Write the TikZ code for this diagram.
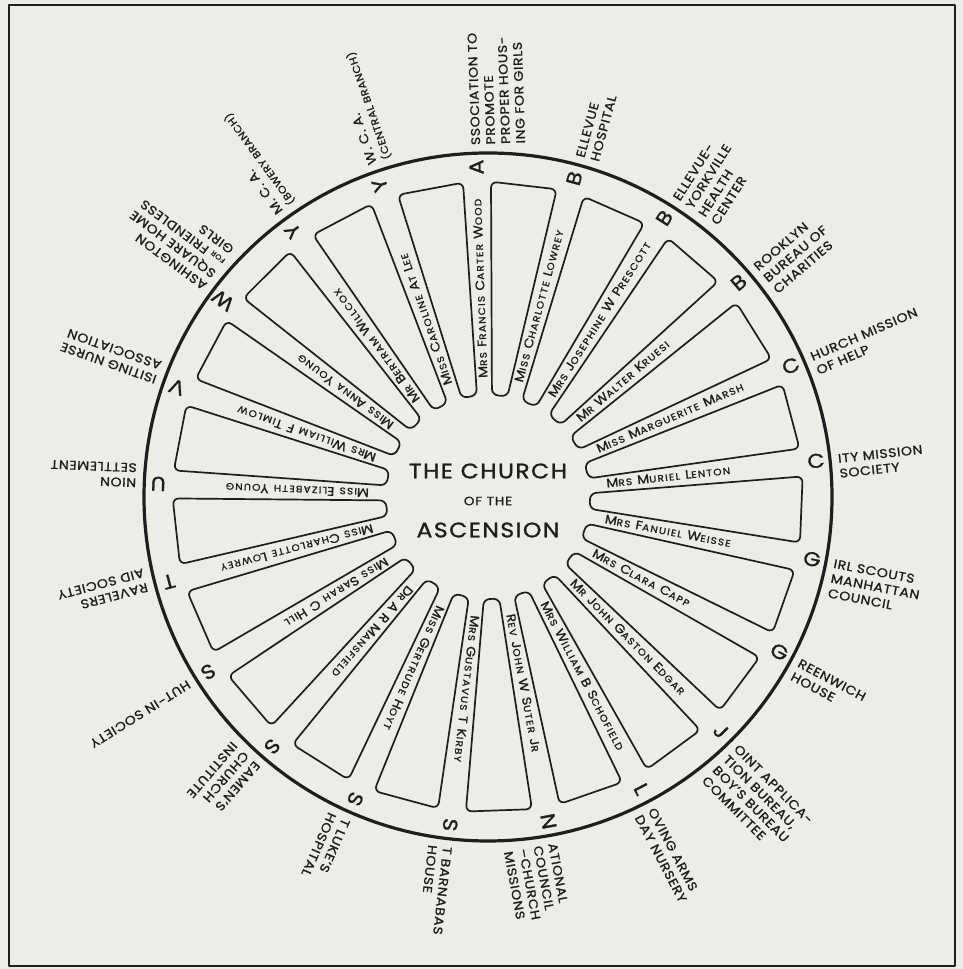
\documentclass[tikz,border=0pt]{standalone}
\usepackage{fontspec}
\setmainfont{Poppins}[FakeStretch=1.12,FakeBold=1.2]
\usetikzlibrary{calc}
\definecolor{paper}{HTML}{EDECE7}
\definecolor{ink}{HTML}{1E1E1E}
\newcommand\scap{\fontsize{9.4}{10}\selectfont}
\newcommand\tinycap{\fontsize{7}{8}\selectfont}
\newcommand\brcap{\fontsize{10}{11}\selectfont}
\tikzset{
  boxline/.style={draw=ink, line width=1.7, rounded corners=6},
  droptxt/.style={inner sep=0, text=ink, font=\fontsize{20}{21}\selectfont},
  labtxt/.style={inner sep=0, text=ink, anchor=base west, font=\fontsize{12.5}{15}\selectfont\addfontfeatures{LetterSpace=5}},
  nametxt/.style={inner sep=0, text=ink, anchor=base west, font=\fontsize{12.4}{13}\selectfont\addfontfeatures{LetterSpace=13}},
  headtxt/.style={inner sep=0, text=ink, font=\fontsize{21}{22}\selectfont\addfontfeatures{LetterSpace=7}},
  headsm/.style={inner sep=0, text=ink, font=\fontsize{12}{14}\selectfont\addfontfeatures{LetterSpace=8}}
}
\begin{document}
\begin{tikzpicture}[x=1pt,y=1pt,line join=round]
\useasboundingbox (0,0) rectangle (963,969);
\fill[paper] (0,0) rectangle (963,969);
\draw[ink, line width=2] (8.5,3) rectangle (955,964);
\coordinate (C) at (488,472);
\draw[ink, line width=3.2] (C) circle (344);
% boxes
\foreach \k in {0,...,20}{
  \pgfmathsetmacro\ta{92-\k*360/21}
  \pgfmathsetmacro\tb{\ta-360/21}
  \pgfmathsetmacro\tam{\ta-90}
  \pgfmathsetmacro\tbp{\tb+90}
  \draw[boxline]
    ($(C)+(\ta:102)+(\tam:7.5)$) -- ($(C)+(\ta:315)+(\tam:14)$) --
    ($(C)+(\tb:315)+(\tbp:14)$) -- ($(C)+(\tb:102)+(\tbp:7.5)$) -- cycle;
}
% labels
\foreach \i/\L/\T/\N in {
 0/A/{SSOCIATION TO\\PROMOTE\\PROPER HOUS-\\ING FOR GIRLS}/{M{\scap RS} F{\scap RANCIS} C{\scap ARTER} W{\scap OOD}},
 1/B/{ELLEVUE\\HOSPITAL}/{M{\scap ISS} C{\scap HARLOTTE} L{\scap OWREY}},
 2/B/{ELLEVUE-\\YORKVILLE\\HEALTH\\CENTER}/{M{\scap RS} J{\scap OSEPHINE} W P{\scap RESCOTT}},
 3/B/{ROOKLYN\\BUREAU OF\\CHARITIES}/{M{\scap R} W{\scap ALTER} K{\scap RUESI}},
 4/C/{HURCH MISSION\\OF HELP}/{M{\scap ISS} M{\scap ARGUERITE} M{\scap ARSH}},
 5/C/{ITY MISSION\\SOCIETY}/{M{\scap RS} M{\scap URIEL} L{\scap ENTON}},
 6/G/{IRL SCOUTS\\MANHATTAN\\COUNCIL}/{M{\scap RS} F{\scap ANUIEL} W{\scap EISSE}},
 7/G/{REENWICH\\HOUSE}/{M{\scap RS} C{\scap LARA} C{\scap APP}},
 8/J/{OINT APPLICA-\\TION BUREAU,\\BOY'S BUREAU\\COMMITTEE}/{M{\scap R} J{\scap OHN} G{\scap ASTON} E{\scap DGAR}},
 9/L/{OVING ARMS\\DAY NURSERY}/{M{\scap RS} W{\scap ILLIAM} B S{\scap CHOFIELD}},
 10/N/{ATIONAL\\COUNCIL\\--CHURCH\\MISSIONS}/{R{\scap EV} J{\scap OHN} W S{\scap UTER} J{\scap R}},
 11/S/{T BARNABAS\\HOUSE}/{M{\scap RS} G{\scap USTAVUS} T K{\scap IRBY}},
 12/S/{T LUKE'S\\HOSPITAL}/{M{\scap ISS} G{\scap ERTRUDE} H{\scap OYT}},
 13/S/{EAMEN'S\\CHURCH\\INSTITUTE}/{D{\scap R} A R M{\scap ANSFIELD}},
 14/S/{HUT-IN SOCIETY}/{M{\scap ISS} S{\scap ARAH} C H{\scap ILL}},
 15/T/{RAVELERS\\AID SOCIETY}/{M{\scap ISS} C{\scap HARLOTTE} L{\scap OWREY}},
 16/U/{NION\\SETTLEMENT}/{M{\scap ISS} E{\scap LIZABETH} Y{\scap OUNG}},
 17/V/{ISITING NURSE\\ASSOCIATION}/{M{\scap RS} W{\scap ILLIAM} F T{\scap IMLOW}},
 18/W/{ASHINGTON\\SQUARE HOME\\{\tinycap FOR} FRIENDLESS\\GIRLS}/{M{\scap ISS} A{\scap NNA} Y{\scap OUNG}},
 19/Y/{M. C. A.\\{\brcap (BOWERY BRANCH)}}/{M{\scap R} B{\scap ERTRAM} W{\scap ILLCOX}},
 20/Y/{W. C. A.\\{\brcap (CENTRAL BRANCH)}}/{M{\scap ISS} C{\scap AROLINE} A{\scap T} L{\scap EE}}
}{
  \pgfmathsetmacro\t{92-\i*360/21}
  \pgfmathsetmacro\tm{\t-90}
  \node[droptxt, rotate=\t] (let\i) at ($(C)+(\t:330)$) {\L};
  \node[labtxt, rotate=\t] (lab\i) at ($(C)+(\t:352)+(\tm:4.5)$)
    {\begin{tabular}[t]{@{}l@{}}\T\end{tabular}};
  \node[nametxt, rotate=\t] (nm\i) at ($(C)+(\t:119)+(\tm:3.6)$) {\N};
}
\node[headtxt] (h1) at (488,498) {THE CHURCH};
\node[headsm] (h2) at (488,468) {OF THE};
\node[headtxt] (h3) at (488,439) {ASCENSION};
\end{tikzpicture}
\end{document}
